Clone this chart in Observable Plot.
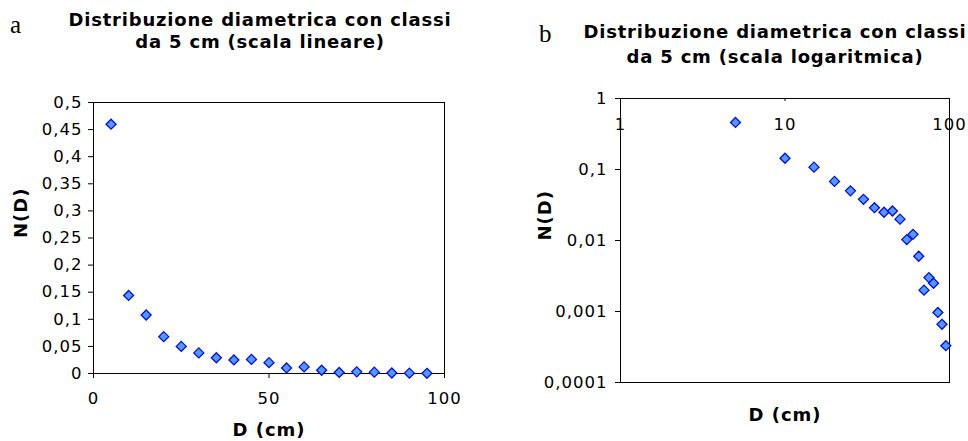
<!DOCTYPE html>
<html>
<head>
<meta charset="utf-8">
<script src="https://cdn.jsdelivr.net/npm/d3@7"></script>
<script src="https://cdn.jsdelivr.net/npm/@observablehq/plot@0.6"></script>
<style>
  body { margin: 0; background: #fff; }
  #wrap { position: relative; width: 968px; height: 441px; overflow: hidden; background: #fff; }
  .panel { position: absolute; top: 0; width: 484px; height: 441px; }
  .panel svg text { letter-spacing: 1px; }
  .title { position: absolute; white-space: nowrap; font: bold 18px "DejaVu Sans"; letter-spacing: 0.8px;
           line-height: 18px; transform: translateX(-50%); color: #000; }
  .tag { position: absolute; font: 25px "Liberation Serif"; line-height: 25px; color: #000; }
</style>
</head>
<body>
<div id="wrap">
  <div class="tag" style="left:10px; top:12px">a</div>
  <div class="title" style="left:260px; top:11px">Distribuzione diametrica con classi</div>
  <div class="title" style="left:260px; top:33px">da 5 cm (scala lineare)</div>
  <div class="tag" style="left:539px; top:21px">b</div>
  <div class="title" style="left:775px; top:23px">Distribuzione diametrica con classi</div>
  <div class="title" style="left:775px; top:47.5px">da 5 cm (scala logaritmica)</div>
  <div class="panel" id="lin" style="left:0"></div>
  <div class="panel" id="log" style="left:484px"></div>
</div>
<script>
// Diameter classes (cm) and the relative frequency N(D) of each class
const diameters = [5, 10, 15, 20, 25, 30, 35, 40, 45, 50, 55, 60, 65, 70, 75, 80, 85, 90, 95];
const density = [0.46, 0.144, 0.108, 0.068, 0.05, 0.038, 0.029, 0.025, 0.026, 0.02,
                 0.0103, 0.0122, 0.006, 0.002, 0.003, 0.0025, 0.00097, 0.00066, 0.00033];

// Tick values for both panels
const linXTicks = [0, 50, 100];
const linYTicks = [0, 0.05, 0.1, 0.15, 0.2, 0.25, 0.3, 0.35, 0.4, 0.45, 0.5];
const logXTicks = [1, 10, 100];
const logYTicks = [0.0001, 0.001, 0.01, 0.1, 1];

const points = diameters.map((d, i) => ({D: d, N: density[i]}));

// Italian decimal separator
const comma = d => String(d).replace(".", ",");

const tickFont = {fontSize: 16.5, fontFamily: "DejaVu Sans"};
const titleFont = {fontSize: 18, fontFamily: "DejaVu Sans", fontWeight: "bold"};
const marker = {symbol: "diamond2", r: 4.5, fill: "#4f9bff", stroke: "#0a0ae6", strokeWidth: 1.3};
const baseStyle = {fontFamily: "DejaVu Sans", fontSize: "16.5px", color: "#000", background: "transparent", overflow: "visible"};

// Panel a: linear axes
const lin = Plot.plot({
  width: 484, height: 441,
  marginLeft: 93, marginRight: 40, marginTop: 102, marginBottom: 68,
  style: baseStyle,
  x: {domain: [0, 100], axis: null},
  y: {domain: [0, 0.5], axis: null},
  marks: [
    Plot.frame({stroke: "#000"}),
    Plot.axisY(linYTicks, {tickSize: 5, tickPadding: 6, tickFormat: comma, label: null, ...tickFont}),
    Plot.axisX(linXTicks, {tickSize: 5, tickPadding: 14, label: null, ...tickFont}),
    Plot.dot(points, {x: "D", y: "N", ...marker}),
    Plot.text(["N(D)"], {text: d => d, frameAnchor: "left", dx: -72, rotate: -90, ...titleFont}),
    Plot.text(["D (cm)"], {text: d => d, frameAnchor: "bottom", lineAnchor: "bottom", dy: 62, ...titleFont})
  ]
});
document.getElementById("lin").append(lin);

// Panel b: log-log axes, x labels sit inside the top of the frame
const log = Plot.plot({
  width: 484, height: 441,
  marginLeft: 136, marginRight: 19, marginTop: 98, marginBottom: 59,
  style: baseStyle,
  x: {type: "log", domain: [1, 100], axis: null},
  y: {type: "log", domain: [0.0001, 1], axis: null},
  marks: [
    Plot.text(logXTicks, {x: d => d, text: d => String(d), frameAnchor: "top", lineAnchor: "bottom", dy: 31, ...tickFont}),
    Plot.frame({stroke: "#000"}),
    Plot.ruleX(logXTicks, {x: d => d, stroke: "#000", insetBottom: 281}),
    Plot.axisY(logYTicks, {tickSize: 5, tickPadding: 8, tickFormat: comma, label: null, ...tickFont}),
    Plot.dot(points, {x: "D", y: "N", ...marker}),
    Plot.text(["N(D)"], {text: d => d, frameAnchor: "left", dx: -75, rotate: -90, ...titleFont}),
    Plot.text(["D (cm)"], {text: d => d, frameAnchor: "bottom", lineAnchor: "bottom", dy: 38, ...titleFont})
  ]
});
document.getElementById("log").append(log);
</script>
</body>
</html>
